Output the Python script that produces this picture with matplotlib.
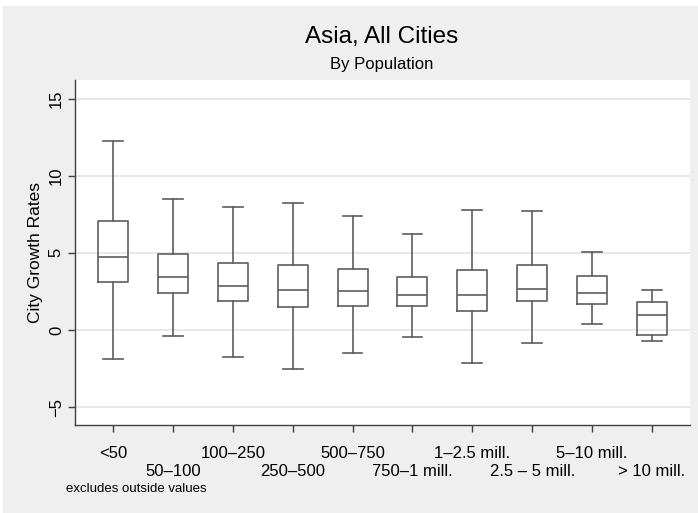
import matplotlib
matplotlib.use("Agg")
import matplotlib.pyplot as plt
from matplotlib.patches import Rectangle

plt.rcParams['font.family'] = ['Liberation Sans', 'DejaVu Sans']
plt.rcParams['axes.unicode_minus'] = True

# 人口級距與各組盒鬚圖統計量
categories = ["<50", "50\u2013100", "100\u2013250", "250\u2013500", "500\u2013750",
              "750\u20131 mill.", "1\u20132.5 mill.", "2.5 \u2013 5 mill.",
              "5\u201310 mill.", "> 10 mill."]
whislo = [-1.86, -0.37, -1.75, -2.53, -1.47, -0.45, -2.14, -0.82, 0.41, -0.73]
q1 = [3.10, 2.38, 1.88, 1.47, 1.56, 1.53, 1.25, 1.88, 1.69, -0.35]
med = [4.75, 3.43, 2.83, 2.61, 2.53, 2.29, 2.27, 2.68, 2.40, 0.99]
q3 = [7.08, 4.90, 4.32, 4.21, 3.95, 3.43, 3.91, 4.21, 3.48, 1.81]
whishi = [12.27, 8.51, 7.97, 8.25, 7.37, 6.24, 7.80, 7.73, 5.06, 2.61]
yticks = [-5, 0, 5, 10, 15]

stats = [dict(whislo=a, q1=b, med=c, q3=d, whishi=e, fliers=[])
         for a, b, c, d, e in zip(whislo, q1, med, q3, whishi)]
positions = list(range(1, len(categories) + 1))

fig = plt.figure(figsize=(6.98, 5.13), dpi=100, facecolor="white")
fig.patches.append(Rectangle((3 / 698, 0), 1, (513 - 6) / 513,
                             transform=fig.transFigure, color="#efefef", zorder=-10))
ax = fig.add_axes([75 / 698, (513 - 425) / 513, 615 / 698, 345 / 513])
ax.set_facecolor("white")

lc = "#5e5e5e"
lw = 1.2
ax.bxp(stats, positions=positions, widths=0.5, capwidths=0.33, showfliers=False,
       boxprops=dict(color=lc, linewidth=lw),
       medianprops=dict(color=lc, linewidth=lw),
       whiskerprops=dict(color=lc, linewidth=lw),
       capprops=dict(color=lc, linewidth=lw))

ax.set_xlim(0.366, 10.634)
ax.set_ylim(-6.16, 16.2)
ax.set_yticks(yticks)
ax.set_yticklabels([str(v).replace("-", "\u2212") for v in yticks],
                   rotation=90, va="center", fontsize=12)

# 標籤分兩排: 奇數組放主刻度, 偶數組放次刻度 (較低的一排)
ax.set_xticks(positions[0::2])
ax.set_xticklabels(categories[0::2], fontsize=12)
ax.set_xticks(positions[1::2], minor=True)
ax.set_xticklabels(categories[1::2], minor=True, fontsize=12)
ax.tick_params(axis="both", which="both", direction="out", length=5, width=1, color="#404040")
ax.tick_params(axis="x", which="major", pad=10)
ax.tick_params(axis="x", which="minor", pad=23)
ax.tick_params(axis="y", pad=3)

ax.grid(axis="y", color="#e6e6e6", linewidth=1.3)
ax.set_axisbelow(True)
for s in ["top", "right"]:
    ax.spines[s].set_visible(False)
for s in ["left", "bottom"]:
    ax.spines[s].set_color("#404040")
    ax.spines[s].set_linewidth(1.0)

ax.set_ylabel("City Growth Rates", fontsize=12.5, labelpad=4)

fig.text(382 / 698, 1 - 37 / 513, "Asia, All Cities", ha="center", va="center", fontsize=17.5)
fig.text(382 / 698, 1 - 64 / 513, "By Population", ha="center", va="center", fontsize=12)
fig.text(66 / 698, 1 - 489 / 513, "excludes outside values", ha="left", va="center", fontsize=9.5)

plt.savefig("out.png", dpi=100, facecolor=fig.get_facecolor())
